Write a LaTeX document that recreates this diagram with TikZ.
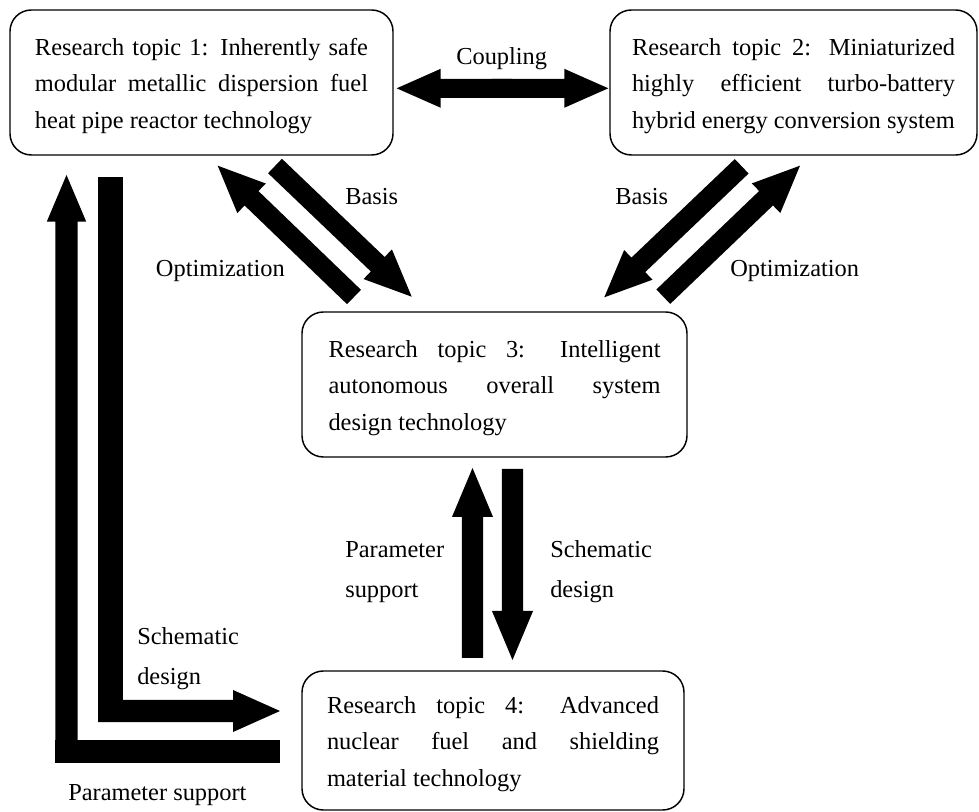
\documentclass[tikz,border=0pt]{standalone}
\usepackage{fontspec}
\setmainfont{Liberation Serif}
\usetikzlibrary{calc}
% block arrow: #1 tail, #2 tip, #3 half shaft, #4 half head width, #5 head length
\newcommand\blkarrow[5]{%
  \path ($(#2)!#5!(#1)$) coordinate (hbase);
  \fill ($(#1)!#3!90:(#2)$) -- ($(hbase)!#3!90:(#2)$) -- ($(hbase)!#4!90:(#2)$) -- (#2)
    -- ($(hbase)!#4!-90:(#2)$) -- ($(hbase)!#3!-90:(#2)$) -- ($(#1)!#3!-90:(#2)$) -- cycle;}
\newcommand\boxtxt[4]{\raisebox{-2.6pt}[\height][\depth]{\parbox{#1}{\fontsize{18.3}{27.4}\selectfont
  \makebox[#1][s]{#2}\\ \makebox[#1][s]{#3}\\ #4}}}
\begin{document}
\begin{tikzpicture}[x=0.75pt,y=-0.75pt,
  box/.style={draw, line width=1.1pt, rounded corners=16pt, inner sep=0pt},
  lbl/.style={inner sep=0pt, font=\fontsize{18.3}{30}\selectfont}]
\useasboundingbox (0,0) rectangle (979,812);

% boxes
\node[box, minimum width=287.25pt, minimum height=108.75pt] (b1) at (201.5,82.5)
 {\boxtxt{249.75pt}{Research topic 1: Inherently safe}{modular metallic dispersion fuel}{heat pipe reactor technology}};
\node[box, minimum width=275.25pt, minimum height=108.75pt] (b2) at (793.5,82.5)
 {\boxtxt{242.25pt}{Research topic 2: Miniaturized}{highly efficient turbo-battery}{hybrid energy conversion system}};
\node[box, minimum width=288.75pt, minimum height=108.75pt] (b3) at (494.5,384.5)
 {\boxtxt{249pt}{Research topic 3: Intelligent}{autonomous overall system}{design technology}};
\node[box, minimum width=286.5pt, minimum height=104.25pt] (b4) at (493,740.5)
 {\boxtxt{249pt}{Research topic 4: Advanced}{nuclear fuel and shielding}{material technology}};

% arrow end coordinates
\coordinate (cml) at (512,88.3);
\coordinate (cmr) at (492,88.3);
\coordinate (cl) at (396.7,88.3);
\coordinate (cr) at (608.3,88.3);
\coordinate (lbT) at (275,166);   \coordinate (lbH) at (411.7,296.7);
\coordinate (loT) at (354,297);   \coordinate (loH) at (217.7,165.7);
\coordinate (rbT) at (741.7,166.3); \coordinate (rbH) at (604.3,297.3);
\coordinate (roT) at (663.3,296.7); \coordinate (roH) at (800,165.7);
\coordinate (vuT) at (472.5,658); \coordinate (vuH) at (472.5,468);
\coordinate (vdT) at (512.5,469); \coordinate (vdH) at (512.5,660);
\coordinate (oC) at (66.5,763);   \coordinate (oH) at (66.5,175);
\coordinate (iC) at (98,711);     \coordinate (iH) at (280,711);

% coupling
\blkarrow{cml}{cl}{7.1pt}{14.6pt}{33pt}
\blkarrow{cmr}{cr}{7.1pt}{14.6pt}{33pt}
% diagonals
\blkarrow{lbT}{lbH}{7.5pt}{15.4pt}{35.25pt}
\blkarrow{loT}{loH}{7.5pt}{15.4pt}{35.25pt}
\blkarrow{rbT}{rbH}{7.5pt}{15.4pt}{35.25pt}
\blkarrow{roT}{roH}{7.5pt}{15.4pt}{35.25pt}
% verticals
\blkarrow{vuT}{vuH}{7.9pt}{15.4pt}{36.75pt}
\blkarrow{vdT}{vdH}{7.9pt}{15.4pt}{36.75pt}
% L-shaped arrows
\fill (55,740) rectangle (280,763);
\blkarrow{oC}{oH}{8.4pt}{14.8pt}{35pt}
\fill (98,176.7) rectangle (122.5,722.3);
\blkarrow{iC}{iH}{8.4pt}{15.75pt}{35.25pt}

% labels
\node[lbl, anchor=base] (tc) at (501.7,65) {Coupling};
\node[lbl, anchor=base west] (tb1) at (345,205) {Basis};
\node[lbl, anchor=base east] (to1) at (285,276.7) {Optimization};
\node[lbl, anchor=base west] (tb2) at (615,205) {Basis};
\node[lbl, anchor=base west] (to2) at (730,276.7) {Optimization};
\node[lbl, anchor=base west] (tp) at (345,558) {\parbox[t]{150pt}{Parameter\\support}};
\node[lbl, anchor=base west] (ts) at (550,558) {\parbox[t]{150pt}{Schematic\\design}};
\node[lbl, anchor=base west] (ts2) at (137,645) {\parbox[t]{150pt}{Schematic\\design}};
\node[lbl, anchor=base west] (tp2) at (68,800) {Parameter support};
\end{tikzpicture}
\end{document}
